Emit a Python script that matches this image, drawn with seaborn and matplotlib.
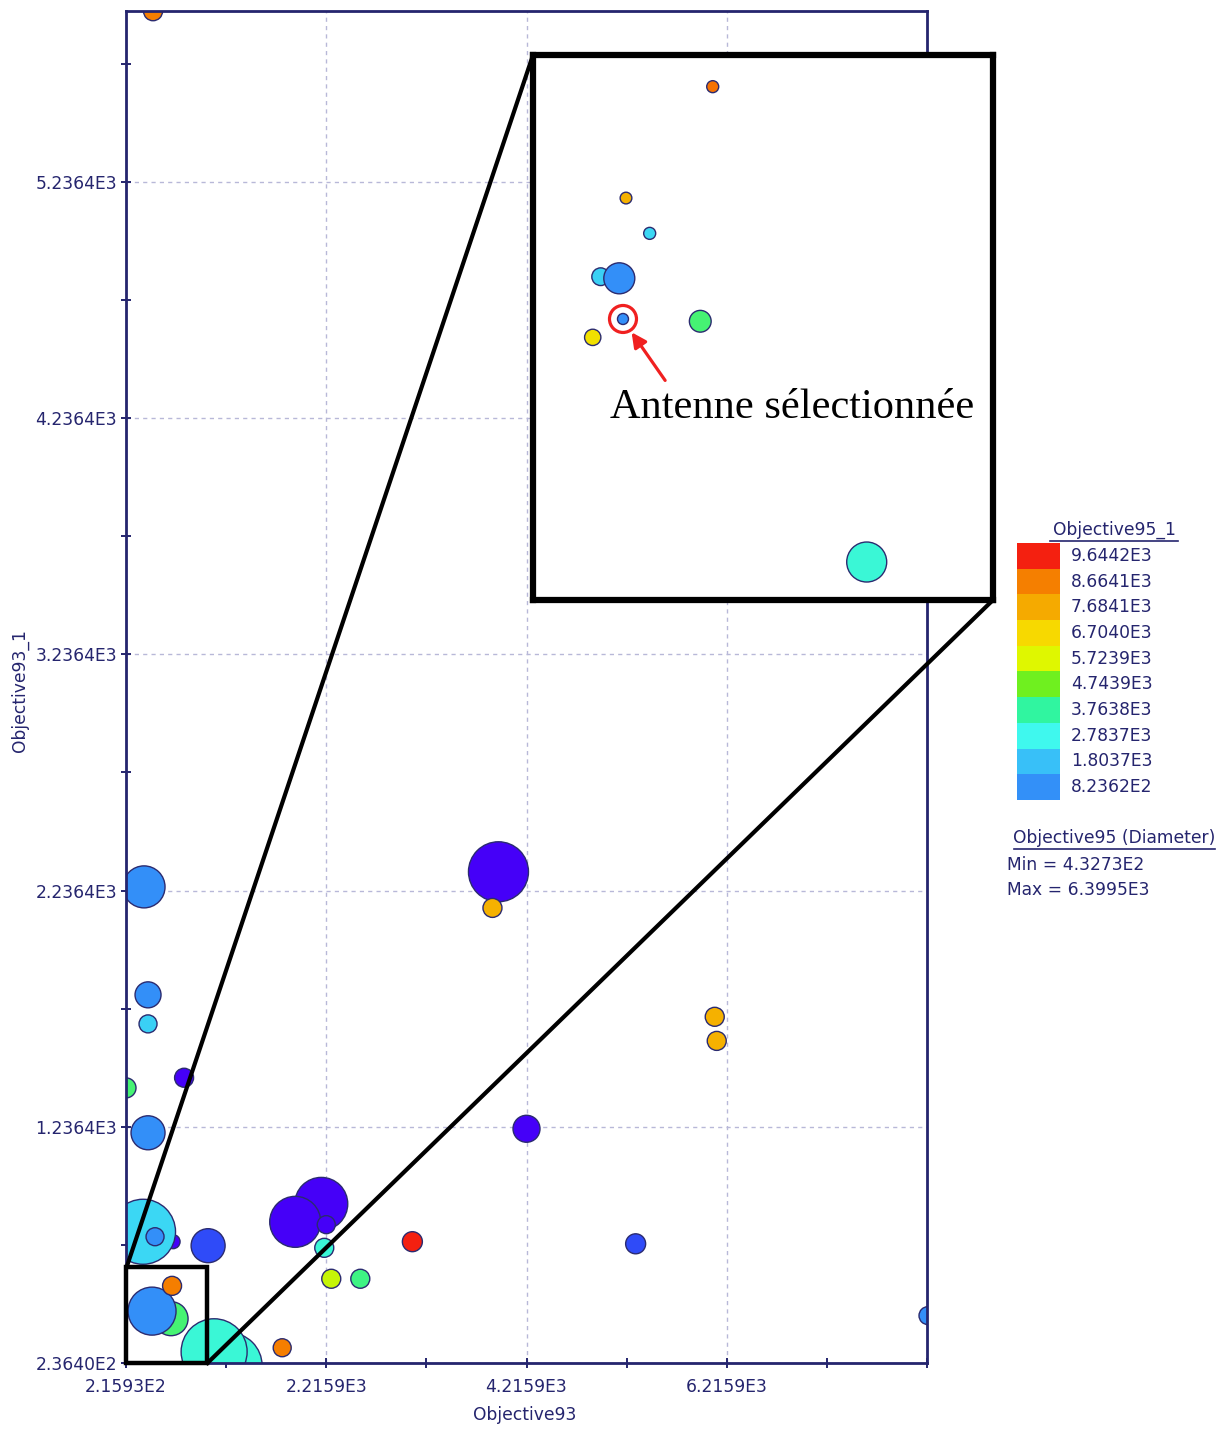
import numpy as np
import pandas as pd
import matplotlib
matplotlib.use("Agg")
import matplotlib.pyplot as plt
import seaborn as sns
from matplotlib.colors import LinearSegmentedColormap, Normalize
from matplotlib.patches import Rectangle
from matplotlib.lines import Line2D

# ---------------- data (main view) ----------------
objective93 = [486, 396, 436, 436, 216, 796, 436, 686, 386, 506, 1036,
               666, 476, 676, 1246, 1096, 1776, 2166, 1906, 2216, 2196,
               2266, 2556, 3076, 3936, 3876, 6096, 6116, 4216, 5306, 8226]
objective93_1 = [5959, 2252, 1795, 1672, 1401, 1444, 1211, 750, 792, 771, 733,
                 424, 456, 563, 225, 284, 301, 910, 834, 822, 724,
                 593, 593, 750, 2316, 2163, 1702, 1600, 1228, 741, 437]
objective95_1 = [8664.1, 823.6, 823.6, 2100, 4100, -1136.6, 823.6, -1136.6, 2200, 823.6, -156.6,
                 4100, 823.6, 8664.1, 3100, 3100, 8664.1, -1136.6, -1136.6, -1136.6, 3100,
                 5500, 4000, 9644.2, -1136.6, 7500, 7500, 7500, -1136.6, -156.6, 823.6]
objective95 = [1006, 3646, 1810, 892, 1121, 1006, 2728, 433, 6285, 892, 2728,
               2728, 4334, 1006, 6400, 6400, 892, 4908, 4678, 892, 1006,
               1006, 1006, 1121, 5711, 1006, 1006, 1006, 1924, 1121, 892]

# ---------------- data (zoomed view) ----------------
zoom_objective93 = [532.4, 379.7, 421.4, 335.1, 367.9, 374.4, 510.5, 321.1, 803.6]
zoom_objective93_1 = [618.9, 535.9, 509.6, 477.3, 476.1, 445.8, 444.1, 432.1, 264.7]
zoom_objective95_1 = [8800, 7500, 2200, 2100, 823.6, 823.6, 4100, 6450, 3100]
zoom_objective95 = [1179, 1123, 1179, 2242, 4721, 992, 3002, 1979, 6399.5]
selected_index = 5

# ---------------- axes / legend text ----------------
x_major = [215.93, 2215.93, 4215.93, 6215.93]
x_major_labels = ["2.1593E2", "2.2159E3", "4.2159E3", "6.2159E3"]
x_minor = [1215.93, 3215.93, 5215.93, 7215.93, 8215.93]
y_major = [236.4, 1236.4, 2236.4, 3236.4, 4236.4, 5236.4]
y_major_labels = ["2.3640E2", "1.2364E3", "2.2364E3", "3.2364E3", "4.2364E3", "5.2364E3"]
y_minor = [736.4, 1736.4, 2736.4, 3736.4, 4736.4, 5736.4]

legend_values = ["9.6442E3", "8.6641E3", "7.6841E3", "6.7040E3", "5.7239E3",
                 "4.7439E3", "3.7638E3", "2.7837E3", "1.8037E3", "8.2362E2"]
legend_colors = ["#F42010", "#F57F00", "#F5AA00", "#F7D900", "#DFF700",
                 "#6FF01F", "#30F5A0", "#3FF8EE", "#38C0F8", "#3390F8"]
below_colors = ["#2F4CF8", "#4500F8"]
diam_min, diam_max = 432.73, 6399.5

NAVY = "#25256E"
EDGE = "#2B2B70"
W, H = 1228, 1430


def fx(px):
    return px / W


def fy(py):
    return 1 - py / H


# continuous colour scale built from the legend colours (low -> high)
scale_colors = below_colors[::-1] + legend_colors[::-1]
cmap = LinearSegmentedColormap.from_list("obj", scale_colors)
cnorm = Normalize(vmin=-1136.6, vmax=9644.2)


def area_pts(values, dmin_px, dmax_px):
    v = np.asarray(values, dtype=float)
    d = dmin_px + (v - diam_min) / (diam_max - diam_min) * (dmax_px - dmin_px)
    return (d * 72 / 100) ** 2


fig = plt.figure(figsize=(12.28, 14.30), dpi=100)
fig.patch.set_facecolor("white")

ax = fig.add_axes([fx(126), fy(1363), fx(927) - fx(126), fy(11) - fy(1363)])
ax.set_facecolor("white")

df = pd.DataFrame({"Objective93": objective93, "Objective93_1": objective93_1,
                   "Objective95_1": objective95_1, "Objective95": objective95})
df["area"] = area_pts(df["Objective95"], 14, 66)
amin, amax = area_pts([diam_min, diam_max], 14, 66)

sns.scatterplot(data=df, x="Objective93", y="Objective93_1", hue="Objective95_1",
                palette=cmap, hue_norm=cnorm, size="area", sizes=(amin, amax),
                size_norm=(amin, amax), edgecolor=EDGE, linewidth=1.0,
                alpha=1, legend=False, ax=ax, zorder=3)

ax.set_xlim(215.93, 8215.93)
ax.set_ylim(236.4, 5960)
ax.set_xticks(x_major)
ax.set_xticklabels(x_major_labels)
ax.set_xticks(x_minor, minor=True)
ax.set_yticks(y_major)
ax.set_yticklabels(y_major_labels)
ax.set_yticks(y_minor, minor=True)
ax.tick_params(which="both", direction="inout", length=7, width=1.4, color=NAVY,
               labelcolor=NAVY, labelsize=12.3)
ax.tick_params(axis="x", pad=7)
ax.tick_params(axis="y", pad=3)
ax.grid(True, which="major", color="#B8B8D8", linestyle=(0, (3, 3)), linewidth=1, zorder=0)
ax.set_axisbelow(True)
for s in ax.spines.values():
    s.set_color(NAVY)
    s.set_linewidth(2)
    s.set_zorder(5)
ax.set_xlabel("")
ax.set_ylabel("")

fig.text(fx(525), fy(1415), "Objective93", ha="center", va="center", color=NAVY, fontsize=12.3)
fig.text(fx(20), fy(690), "Objective93_1", ha="center", va="center", rotation=90,
         color=NAVY, fontsize=12.3)

# zoom box in main axes
zx0, zx1 = 215.93, 1026.0
zy0, zy1 = 236.4, 642.5
ax.add_patch(Rectangle((zx0, zy0), zx1 - zx0, zy1 - zy0, fill=False, edgecolor="black",
                       linewidth=3.2, zorder=6, clip_on=False))

# connector lines
fig.add_artist(Line2D([fx(127), fx(533)], [fy(1266), fy(55)], color="black", lw=3.0, zorder=3))
fig.add_artist(Line2D([fx(207.5), fx(993)], [fy(1363), fy(600)], color="black", lw=3.0, zorder=3))

# inset (zoomed view)
ins = fig.add_axes([fx(533), fy(600), fx(993) - fx(533), fy(55) - fy(600)])
ins.set_zorder(10)
ins.set_facecolor("white")
zdf = pd.DataFrame({"Objective93": zoom_objective93, "Objective93_1": zoom_objective93_1,
                    "Objective95_1": zoom_objective95_1, "Objective95": zoom_objective95})
zdf["area"] = area_pts(zdf["Objective95"], 8, 40)
bmin, bmax = area_pts([diam_min, diam_max], 8, 40)
sns.scatterplot(data=zdf, x="Objective93", y="Objective93_1", hue="Objective95_1",
                palette=cmap, hue_norm=cnorm, size="area", sizes=(bmin, bmax),
                size_norm=(bmin, bmax), edgecolor=EDGE, linewidth=1.0,
                alpha=1, legend=False, ax=ins, zorder=3)
ins.set_xlim(zx0, zx1)
ins.set_ylim(zy0, zy1)
ins.set_xticks([])
ins.set_yticks([])
ins.set_xlabel("")
ins.set_ylabel("")
for s in ins.spines.values():
    s.set_color("black")
    s.set_linewidth(4.5)

# selected antenna ring + arrow + label
sx = zoom_objective93[selected_index]
sy = zoom_objective93_1[selected_index]
ins.scatter([sx], [sy], s=(27 * 0.72) ** 2, facecolors="none", edgecolors="#F02020",
            linewidths=2.3, zorder=6)
ins.annotate("", xy=(0.2109, 0.4954), xytext=(0.2907, 0.3987), xycoords="axes fraction",
             textcoords="axes fraction",
             arrowprops=dict(arrowstyle="-|>", color="#F02020", lw=2.3, mutation_scale=22))
ins.text(0.1674, 0.334, "Antenne sélectionnée", transform=ins.transAxes, ha="left",
         va="baseline", fontsize=30.5, family=["Liberation Serif", "DejaVu Serif"], color="black")

# colour legend
fig.text(fx(1114), fy(530), "Objective95_1", ha="center", va="center", color=NAVY, fontsize=12.3)
fig.add_artist(Line2D([fx(1050), fx(1178)], [fy(541), fy(541)], color=NAVY, lw=1.2))
row_h = 25.7
for i, (lab, col) in enumerate(zip(legend_values, legend_colors)):
    top = 543 + i * row_h
    fig.add_artist(Rectangle((fx(1017), fy(top + row_h)), fx(1060) - fx(1017), row_h / H,
                             transform=fig.transFigure, facecolor=col, edgecolor="none"))
    fig.text(fx(1071), fy(top + row_h / 2), lab, ha="left", va="center", color=NAVY, fontsize=12.3)

fig.text(fx(1114.5), fy(838), "Objective95 (Diameter)", ha="center", va="center",
         color=NAVY, fontsize=12.3)
fig.add_artist(Line2D([fx(1014), fx(1215)], [fy(849), fy(849)], color=NAVY, lw=1.2))
fig.text(fx(1007), fy(865), "Min = 4.3273E2", ha="left", va="center", color=NAVY, fontsize=12.3)
fig.text(fx(1007), fy(890), "Max = 6.3995E3", ha="left", va="center", color=NAVY, fontsize=12.3)

fig.savefig("out.png", dpi=100, facecolor="white")
